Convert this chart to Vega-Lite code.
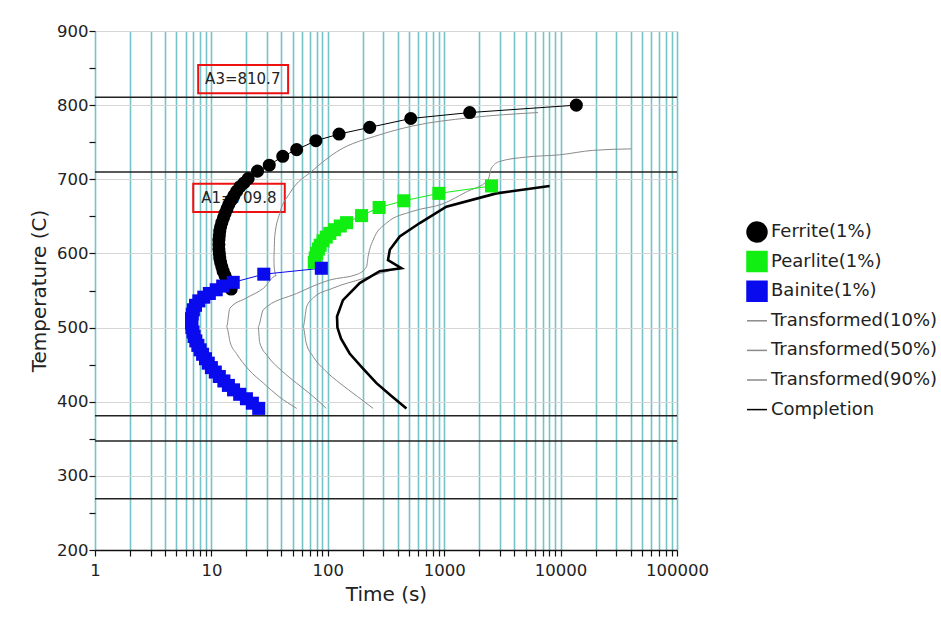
{
  "$schema": "https://vega.github.io/schema/vega-lite/v6.json",
  "width": 582,
  "height": 519,
  "autosize": {"type": "none"},
  "padding": {"left": 95, "top": 31, "right": 264, "bottom": 70},
  "background": "white",
  "config": {
    "view": {"stroke": null},
    "font": "DejaVu Sans",
    "legend": {
      "orient": "none",
      "legendX": 651,
      "legendY": 190,
      "symbolSize": 400,
      "labelFontSize": 18,
      "labelFont": "DejaVu Sans",
      "labelColor": "#222",
      "labelLimit": 0,
      "rowPadding": 3.6,
      "gridAlign": "all",
      "labelOffset": 3,
      "padding": 0,
      "symbolLimit": 0
    }
  },
  "datasets": {
    "markers": [
      {"s": "Ferrite(1%)", "i": 1, "t": 13650, "T": 800},
      {"s": "Ferrite(1%)", "i": 2, "t": 1656, "T": 790},
      {"s": "Ferrite(1%)", "i": 3, "t": 516, "T": 782},
      {"s": "Ferrite(1%)", "i": 4, "t": 229, "T": 770},
      {"s": "Ferrite(1%)", "i": 5, "t": 125, "T": 761},
      {"s": "Ferrite(1%)", "i": 6, "t": 79, "T": 752},
      {"s": "Ferrite(1%)", "i": 7, "t": 54, "T": 740},
      {"s": "Ferrite(1%)", "i": 8, "t": 41, "T": 731},
      {"s": "Ferrite(1%)", "i": 9, "t": 31.4, "T": 719},
      {"s": "Ferrite(1%)", "i": 10, "t": 24.9, "T": 711},
      {"s": "Ferrite(1%)", "i": 11, "t": 20.7, "T": 701},
      {"s": "Ferrite(1%)", "i": 12, "t": 19.0, "T": 695},
      {"s": "Ferrite(1%)", "i": 13, "t": 17.6, "T": 690},
      {"s": "Ferrite(1%)", "i": 14, "t": 16.5, "T": 684},
      {"s": "Ferrite(1%)", "i": 15, "t": 15.6, "T": 678},
      {"s": "Ferrite(1%)", "i": 16, "t": 14.8, "T": 672},
      {"s": "Ferrite(1%)", "i": 17, "t": 14.1, "T": 666},
      {"s": "Ferrite(1%)", "i": 18, "t": 13.6, "T": 660},
      {"s": "Ferrite(1%)", "i": 19, "t": 13.1, "T": 654},
      {"s": "Ferrite(1%)", "i": 20, "t": 12.7, "T": 648},
      {"s": "Ferrite(1%)", "i": 21, "t": 12.3, "T": 642},
      {"s": "Ferrite(1%)", "i": 22, "t": 12.0, "T": 636},
      {"s": "Ferrite(1%)", "i": 23, "t": 11.8, "T": 630},
      {"s": "Ferrite(1%)", "i": 24, "t": 11.7, "T": 624},
      {"s": "Ferrite(1%)", "i": 25, "t": 11.6, "T": 618},
      {"s": "Ferrite(1%)", "i": 26, "t": 11.6, "T": 612},
      {"s": "Ferrite(1%)", "i": 27, "t": 11.6, "T": 606},
      {"s": "Ferrite(1%)", "i": 28, "t": 11.7, "T": 600},
      {"s": "Ferrite(1%)", "i": 29, "t": 11.8, "T": 594},
      {"s": "Ferrite(1%)", "i": 30, "t": 12.0, "T": 588},
      {"s": "Ferrite(1%)", "i": 31, "t": 12.3, "T": 582},
      {"s": "Ferrite(1%)", "i": 32, "t": 12.6, "T": 576},
      {"s": "Ferrite(1%)", "i": 33, "t": 13.1, "T": 570},
      {"s": "Ferrite(1%)", "i": 34, "t": 13.6, "T": 564},
      {"s": "Ferrite(1%)", "i": 35, "t": 14.1, "T": 558},
      {"s": "Ferrite(1%)", "i": 36, "t": 14.8, "T": 552},
      {"s": "Pearlite(1%)", "i": 1, "t": 2550, "T": 691},
      {"s": "Pearlite(1%)", "i": 2, "t": 900, "T": 681},
      {"s": "Pearlite(1%)", "i": 3, "t": 450, "T": 671},
      {"s": "Pearlite(1%)", "i": 4, "t": 276, "T": 662},
      {"s": "Pearlite(1%)", "i": 5, "t": 195, "T": 651},
      {"s": "Pearlite(1%)", "i": 6, "t": 145, "T": 641.5},
      {"s": "Pearlite(1%)", "i": 7, "t": 128, "T": 637},
      {"s": "Pearlite(1%)", "i": 8, "t": 114, "T": 632},
      {"s": "Pearlite(1%)", "i": 9, "t": 104, "T": 627},
      {"s": "Pearlite(1%)", "i": 10, "t": 97, "T": 622},
      {"s": "Pearlite(1%)", "i": 11, "t": 91, "T": 617},
      {"s": "Pearlite(1%)", "i": 12, "t": 86, "T": 611},
      {"s": "Pearlite(1%)", "i": 13, "t": 83, "T": 606},
      {"s": "Pearlite(1%)", "i": 14, "t": 80, "T": 600},
      {"s": "Pearlite(1%)", "i": 15, "t": 78, "T": 594},
      {"s": "Pearlite(1%)", "i": 16, "t": 76.5, "T": 588},
      {"s": "Bainite(1%)", "i": 1, "t": 88, "T": 580},
      {"s": "Bainite(1%)", "i": 2, "t": 28.2, "T": 572},
      {"s": "Bainite(1%)", "i": 3, "t": 15.4, "T": 561},
      {"s": "Bainite(1%)", "i": 4, "t": 12.5, "T": 556},
      {"s": "Bainite(1%)", "i": 5, "t": 11.0, "T": 551},
      {"s": "Bainite(1%)", "i": 6, "t": 9.6, "T": 546},
      {"s": "Bainite(1%)", "i": 7, "t": 8.6, "T": 541},
      {"s": "Bainite(1%)", "i": 8, "t": 7.8, "T": 536},
      {"s": "Bainite(1%)", "i": 9, "t": 7.3, "T": 530},
      {"s": "Bainite(1%)", "i": 10, "t": 7.0, "T": 524},
      {"s": "Bainite(1%)", "i": 11, "t": 6.85, "T": 518},
      {"s": "Bainite(1%)", "i": 12, "t": 6.75, "T": 512},
      {"s": "Bainite(1%)", "i": 13, "t": 6.75, "T": 506},
      {"s": "Bainite(1%)", "i": 14, "t": 6.8, "T": 500},
      {"s": "Bainite(1%)", "i": 15, "t": 6.95, "T": 494},
      {"s": "Bainite(1%)", "i": 16, "t": 7.1, "T": 488},
      {"s": "Bainite(1%)", "i": 17, "t": 7.35, "T": 482},
      {"s": "Bainite(1%)", "i": 18, "t": 7.65, "T": 476},
      {"s": "Bainite(1%)", "i": 19, "t": 8.0, "T": 470},
      {"s": "Bainite(1%)", "i": 20, "t": 8.4, "T": 464},
      {"s": "Bainite(1%)", "i": 21, "t": 8.9, "T": 458},
      {"s": "Bainite(1%)", "i": 22, "t": 9.4, "T": 452},
      {"s": "Bainite(1%)", "i": 23, "t": 10.0, "T": 446},
      {"s": "Bainite(1%)", "i": 24, "t": 10.8, "T": 440},
      {"s": "Bainite(1%)", "i": 25, "t": 11.7, "T": 434},
      {"s": "Bainite(1%)", "i": 26, "t": 12.8, "T": 428},
      {"s": "Bainite(1%)", "i": 27, "t": 14.0, "T": 422},
      {"s": "Bainite(1%)", "i": 28, "t": 15.5, "T": 416},
      {"s": "Bainite(1%)", "i": 29, "t": 17.5, "T": 410},
      {"s": "Bainite(1%)", "i": 30, "t": 20, "T": 404},
      {"s": "Bainite(1%)", "i": 31, "t": 22.5, "T": 398},
      {"s": "Bainite(1%)", "i": 32, "t": 25.5, "T": 391}
    ],
    "curves": [
      {"s": "Transformed(10%)", "i": 1, "t": 6400, "T": 790},
      {"s": "Transformed(10%)", "i": 2, "t": 1656, "T": 783},
      {"s": "Transformed(10%)", "i": 3, "t": 540, "T": 772},
      {"s": "Transformed(10%)", "i": 4, "t": 279, "T": 760},
      {"s": "Transformed(10%)", "i": 5, "t": 119, "T": 737},
      {"s": "Transformed(10%)", "i": 6, "t": 75, "T": 712.5},
      {"s": "Transformed(10%)", "i": 7, "t": 47, "T": 681},
      {"s": "Transformed(10%)", "i": 8, "t": 38.6, "T": 654},
      {"s": "Transformed(10%)", "i": 9, "t": 35, "T": 623},
      {"s": "Transformed(10%)", "i": 10, "t": 34.4, "T": 595},
      {"s": "Transformed(10%)", "i": 11, "t": 34.6, "T": 582},
      {"s": "Transformed(10%)", "i": 12, "t": 36, "T": 570},
      {"s": "Transformed(10%)", "i": 13, "t": 28, "T": 553},
      {"s": "Transformed(10%)", "i": 14, "t": 20, "T": 540},
      {"s": "Transformed(10%)", "i": 15, "t": 14.4, "T": 526},
      {"s": "Transformed(10%)", "i": 16, "t": 13.5, "T": 501},
      {"s": "Transformed(10%)", "i": 17, "t": 14.5, "T": 480},
      {"s": "Transformed(10%)", "i": 18, "t": 16.4, "T": 465},
      {"s": "Transformed(10%)", "i": 19, "t": 21, "T": 443},
      {"s": "Transformed(10%)", "i": 20, "t": 28, "T": 425},
      {"s": "Transformed(10%)", "i": 21, "t": 38, "T": 407},
      {"s": "Transformed(10%)", "i": 22, "t": 54, "T": 391},
      {"s": "Transformed(50%)", "i": 1, "t": 40400, "T": 741},
      {"s": "Transformed(50%)", "i": 2, "t": 18900, "T": 739},
      {"s": "Transformed(50%)", "i": 3, "t": 9800, "T": 733},
      {"s": "Transformed(50%)", "i": 4, "t": 5080, "T": 730},
      {"s": "Transformed(50%)", "i": 5, "t": 2995, "T": 724},
      {"s": "Transformed(50%)", "i": 6, "t": 2540, "T": 715},
      {"s": "Transformed(50%)", "i": 7, "t": 2380, "T": 699},
      {"s": "Transformed(50%)", "i": 8, "t": 1550, "T": 683},
      {"s": "Transformed(50%)", "i": 9, "t": 977, "T": 667},
      {"s": "Transformed(50%)", "i": 10, "t": 540, "T": 657},
      {"s": "Transformed(50%)", "i": 11, "t": 319, "T": 641},
      {"s": "Transformed(50%)", "i": 12, "t": 245, "T": 618},
      {"s": "Transformed(50%)", "i": 13, "t": 222, "T": 596},
      {"s": "Transformed(50%)", "i": 14, "t": 215, "T": 582},
      {"s": "Transformed(50%)", "i": 15, "t": 180, "T": 572},
      {"s": "Transformed(50%)", "i": 16, "t": 103, "T": 564},
      {"s": "Transformed(50%)", "i": 17, "t": 54, "T": 546},
      {"s": "Transformed(50%)", "i": 18, "t": 27.9, "T": 524},
      {"s": "Transformed(50%)", "i": 19, "t": 25.2, "T": 501},
      {"s": "Transformed(50%)", "i": 20, "t": 26, "T": 480},
      {"s": "Transformed(50%)", "i": 21, "t": 30.6, "T": 461},
      {"s": "Transformed(50%)", "i": 22, "t": 40, "T": 442},
      {"s": "Transformed(50%)", "i": 23, "t": 54, "T": 425},
      {"s": "Transformed(50%)", "i": 24, "t": 75, "T": 407},
      {"s": "Transformed(50%)", "i": 25, "t": 97, "T": 391},
      {"s": "Transformed(90%)", "i": 1, "t": 400, "T": 580},
      {"s": "Transformed(90%)", "i": 2, "t": 200, "T": 566},
      {"s": "Transformed(90%)", "i": 3, "t": 110, "T": 553},
      {"s": "Transformed(90%)", "i": 4, "t": 75, "T": 540},
      {"s": "Transformed(90%)", "i": 5, "t": 65.8, "T": 528},
      {"s": "Transformed(90%)", "i": 6, "t": 61.4, "T": 501},
      {"s": "Transformed(90%)", "i": 7, "t": 65, "T": 480},
      {"s": "Transformed(90%)", "i": 8, "t": 74.8, "T": 461},
      {"s": "Transformed(90%)", "i": 9, "t": 95, "T": 442},
      {"s": "Transformed(90%)", "i": 10, "t": 127, "T": 425},
      {"s": "Transformed(90%)", "i": 11, "t": 180, "T": 407},
      {"s": "Transformed(90%)", "i": 12, "t": 245, "T": 391},
      {"s": "Completion", "i": 1, "t": 8050, "T": 691},
      {"s": "Completion", "i": 2, "t": 2805, "T": 681},
      {"s": "Completion", "i": 3, "t": 1043, "T": 663},
      {"s": "Completion", "i": 4, "t": 617, "T": 641},
      {"s": "Completion", "i": 5, "t": 415, "T": 623},
      {"s": "Completion", "i": 6, "t": 341, "T": 605},
      {"s": "Completion", "i": 7, "t": 329, "T": 591},
      {"s": "Completion", "i": 8, "t": 429, "T": 580},
      {"s": "Completion", "i": 9, "t": 279, "T": 576},
      {"s": "Completion", "i": 10, "t": 188, "T": 560},
      {"s": "Completion", "i": 11, "t": 135, "T": 537},
      {"s": "Completion", "i": 12, "t": 120, "T": 515},
      {"s": "Completion", "i": 13, "t": 121, "T": 500},
      {"s": "Completion", "i": 14, "t": 130, "T": 485},
      {"s": "Completion", "i": 15, "t": 154, "T": 465},
      {"s": "Completion", "i": 16, "t": 200, "T": 445},
      {"s": "Completion", "i": 17, "t": 262, "T": 425},
      {"s": "Completion", "i": 18, "t": 350, "T": 408},
      {"s": "Completion", "i": 19, "t": 474, "T": 391}
    ],
    "hlines": [
      {"T": 810.7}, {"T": 709.8}, {"T": 381}, {"T": 347}, {"T": 269}
    ],
    "labels": [
      {"label": "A3=810.7", "t1": 7.7, "t2": 45.6, "T1": 854, "T2": 816, "tx": 18.6, "Ty": 835},
      {"label": "A1=709.8", "t1": 6.98, "t2": 42.7, "T1": 694, "T2": 656, "tx": 17.2, "Ty": 675}
    ]
  },
  "encoding": {
    "x": {
      "field": "t", "type": "quantitative",
      "scale": {"type": "log", "domain": [1, 100000], "nice": false},
      "axis": {
        "title": "Time (s)",
        "values": [1,2,3,4,5,6,7,8,9,10,20,30,40,50,60,70,80,90,100,200,300,400,500,600,700,800,900,1000,2000,3000,4000,5000,6000,7000,8000,9000,10000,20000,30000,40000,50000,60000,70000,80000,90000,100000],
        "labelExpr": "indexof([1,10,100,1000,10000,100000], datum.value) >= 0 ? format(datum.value, 'd') : ''",
        "labelFontSize": 16.5, "labelColor": "#222", "labelFont": "DejaVu Sans",
        "labelPadding": 6, "labelFlush": false, "labelOverlap": false,
        "titleFontSize": 20, "titleFont": "DejaVu Sans", "titleFontWeight": "normal", "titleColor": "#222", "titlePadding": 6,
        "grid": true, "gridColor": "#76c3c8", "gridWidth": 1.6, "gridOpacity": 1,
        "domainColor": "#111", "domainWidth": 1.5, "tickColor": "#111", "tickSize": 6, "tickWidth": 1.2
      }
    },
    "y": {
      "field": "T", "type": "quantitative",
      "scale": {"domain": [200, 900], "nice": false, "zero": false},
      "axis": {
        "title": "Temperature (C)",
        "values": [200,250,300,350,400,450,500,550,600,650,700,750,800,850,900],
        "labelExpr": "datum.value % 100 == 0 ? datum.label : ''",
        "labelFontSize": 16.5, "labelColor": "#222", "labelFont": "DejaVu Sans",
        "labelPadding": 1,
        "titleFontSize": 20, "titleFont": "DejaVu Sans", "titleFontWeight": "normal", "titleColor": "#222", "titlePadding": 7,
        "grid": true, "gridColor": "#d6d6d6", "gridWidth": 1,
        "gridOpacity": {"condition": {"test": "datum.value % 100 != 0", "value": 0}, "value": 1},
        "domain": false, "tickColor": "#111", "tickSize": 6, "tickWidth": 1.2
      }
    }
  },
  "layer": [
    {
      "data": {"name": "hlines"},
      "mark": {"type": "rule", "color": "#222", "strokeWidth": 1.5},
      "encoding": {"y": {"field": "T", "type": "quantitative"}, "x": null}
    },
    {
      "data": {"name": "labels"},
      "mark": {"type": "rect", "fill": "transparent", "stroke": "#ee1111", "strokeWidth": 2},
      "encoding": {
        "x": {"field": "t1", "type": "quantitative"},
        "x2": {"field": "t2"},
        "y": {"field": "T1", "type": "quantitative"},
        "y2": {"field": "T2"}
      }
    },
    {
      "data": {"name": "labels"},
      "mark": {"type": "text", "fontSize": 15, "color": "#222", "font": "DejaVu Sans"},
      "encoding": {
        "x": {"field": "tx", "type": "quantitative"},
        "y": {"field": "Ty", "type": "quantitative"},
        "text": {"field": "label"}
      }
    },
    {
      "data": {"name": "curves"},
      "transform": [{"filter": "datum.s != 'Completion'"}],
      "mark": {"type": "line", "strokeWidth": 1, "interpolate": "monotone"},
      "encoding": {
        "order": {"field": "i", "type": "quantitative"},
        "color": {"field": "s", "type": "nominal"}
      }
    },
    {
      "data": {"name": "curves"},
      "transform": [{"filter": "datum.s == 'Completion'"}],
      "mark": {"type": "line", "strokeWidth": 2.6},
      "encoding": {
        "order": {"field": "i", "type": "quantitative"},
        "color": {"field": "s", "type": "nominal"}
      }
    },
    {
      "data": {"name": "markers"},
      "mark": {"type": "line", "strokeWidth": 1},
      "encoding": {
        "order": {"field": "i", "type": "quantitative"},
        "color": {"field": "s", "type": "nominal"}
      }
    },
    {
      "data": {"name": "markers"},
      "mark": {"type": "point", "filled": true, "opacity": 1, "size": 170},
      "encoding": {
        "color": {
          "field": "s", "type": "nominal",
          "scale": {
            "domain": ["Ferrite(1%)", "Pearlite(1%)", "Bainite(1%)", "Transformed(10%)", "Transformed(50%)", "Transformed(90%)", "Completion"],
            "range": ["#000000", "#11ee11", "#0a0aee", "#8a8a8a", "#8a8a8a", "#8a8a8a", "#000000"]
          },
          "legend": {
            "title": null,
            "encode": {"symbols": {"update": {"stroke": {"scale": "color", "field": "value"}, "strokeWidth": {"value": 1.5}}}}
          }
        },
        "shape": {
          "field": "s", "type": "nominal",
          "scale": {
            "domain": ["Ferrite(1%)", "Pearlite(1%)", "Bainite(1%)", "Transformed(10%)", "Transformed(50%)", "Transformed(90%)", "Completion"],
            "range": ["circle", "square", "square", "stroke", "stroke", "stroke", "stroke"]
          },
          "legend": {"title": null}
        }
      }
    }
  ]
}
